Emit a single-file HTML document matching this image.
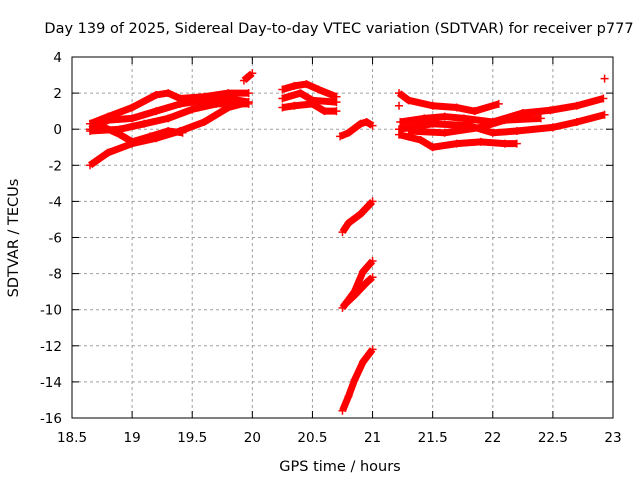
<!DOCTYPE html>
<html><head><meta charset="utf-8"><style>
body{margin:0;background:#fff}
svg{font-family:"DejaVu Sans","Liberation Sans",sans-serif;font-size:13.5px}
.big{font-size:14.5px}
</style></head><body>
<svg id="c" width="640" height="480" xmlns="http://www.w3.org/2000/svg">
<rect width="640" height="480" fill="#fff"/>
<text class="big" x="339" y="33" text-anchor="middle">Day 139 of 2025, Sidereal Day-to-day VTEC variation (SDTVAR) for receiver p777</text>
<text class="big" x="340" y="471" text-anchor="middle">GPS time / hours</text>
<text class="big" transform="translate(18,238) rotate(-90)" text-anchor="middle">SDTVAR / TECUs</text>
<g id="grid"></g><g id="marks"></g>
<rect x="72" y="57" width="541" height="361" fill="none" stroke="#000"/>
<g id="ticks"></g>
</svg>
<script>
const xTicks=[18.5,19,19.5,20,20.5,21,21.5,22,22.5,23];
const xTickLabels=["18.5","19","19.5","20","20.5","21","21.5","22","22.5","23"];
const yTicks=[4,2,0,-2,-4,-6,-8,-10,-12,-14,-16];
const yTickLabels=["4","2","0","-2","-4","-6","-8","-10","-12","-14","-16"];
const trackA=[[18.65,0.3],[18.8,0.7],[19.0,1.2],[19.2,1.9],[19.3,2.0],[19.4,1.7],[19.6,1.8],[19.8,2.0],[19.97,2.0]];
const trackB=[[18.65,0.0],[18.8,0.5],[19.0,0.6],[19.2,1.0],[19.4,1.4],[19.6,1.6],[19.8,1.7],[19.97,1.5]];
const trackC=[[18.65,-0.1],[18.9,0.0],[19.1,0.3],[19.3,0.6],[19.5,1.1],[19.7,1.4],[19.97,1.4]];
const trackD=[[18.65,-2.0],[18.8,-1.3],[19.0,-0.8],[19.2,-0.5],[19.4,-0.1],[19.6,0.4],[19.8,1.2],[19.97,1.5]];
const trackE=[[18.7,0.3],[18.9,-0.3],[19.0,-0.7],[19.15,-0.4],[19.3,-0.1],[19.42,-0.2]];
const trackF=[[19.93,2.7],[20.0,3.1]];
const trackG=[[20.25,2.2],[20.35,2.4],[20.45,2.5],[20.55,2.2],[20.7,1.8]];
const trackH=[[20.25,1.7],[20.4,2.0],[20.5,1.6],[20.7,1.5]];
const trackI=[[20.25,1.2],[20.35,1.3],[20.5,1.4],[20.6,1.0],[20.7,1.0]];
const trackArc=[[20.73,-0.4],[20.8,-0.2],[20.9,0.3],[20.95,0.4],[21.0,0.2]];
const trackJ=[[20.75,-5.7],[20.8,-5.2],[20.9,-4.7],[21.0,-4.0]];
const trackK=[[20.75,-9.9],[20.85,-9.0],[20.92,-7.9],[21.0,-7.3]];
const trackL=[[20.77,-9.7],[20.85,-9.2],[20.95,-8.5],[21.0,-8.2]];
const trackM=[[20.75,-15.6],[20.8,-14.8],[20.85,-13.9],[20.92,-12.9],[21.0,-12.2]];
const trackN=[[21.22,2.0],[21.3,1.6],[21.5,1.3],[21.7,1.2],[21.85,1.0],[22.05,1.4]];
const trackP=[[21.23,0.4],[21.43,0.6],[21.6,0.7],[21.76,0.6],[22.0,0.4],[22.25,0.9],[22.48,1.05],[22.7,1.3],[22.92,1.7]];
const trackQ=[[21.22,0.0],[21.5,0.3],[21.8,0.2],[22.0,-0.2],[22.2,-0.1],[22.5,0.1],[22.7,0.4],[22.93,0.8]];
const trackR=[[21.22,-0.3],[21.4,-0.6],[21.5,-1.0],[21.7,-0.8],[21.9,-0.7],[22.1,-0.8],[22.2,-0.8]];
const trackS=[[21.3,-0.1],[21.6,-0.2],[21.9,0.1],[22.1,0.5],[22.4,0.6]];
const trackSingles=[[22.93,2.8],[21.22,1.3]];
const tracks=[trackA,trackB,trackC,trackD,trackE,trackF,trackG,trackH,trackI,trackArc,trackJ,trackK,trackL,trackM,trackN,trackP,trackQ,trackR,trackS];
const NS="http://www.w3.org/2000/svg";
function sx(v){return 72+(v-18.5)/4.5*541;}
function sy(v){return 57+(4-v)/20*361;}
function mk(t,a,p){const e=document.createElementNS(NS,t);for(const k in a)e.setAttribute(k,a[k]);p.appendChild(e);return e;}
const grid=document.getElementById('grid'),ticks=document.getElementById('ticks'),marks=document.getElementById('marks');
xTicks.forEach((v,i)=>{const x=sx(v);
 if(i>0&&i<xTicks.length-1){const g=mk('line',{x1:x,x2:x,y1:57,y2:418,stroke:'#a0a0a0','stroke-dasharray':'3,3'},grid);}
 mk('line',{x1:x,x2:x,y1:418,y2:411,stroke:'#000'},ticks);mk('line',{x1:x,x2:x,y1:57,y2:64,stroke:'#000'},ticks);
 const t=mk('text',{x:x,y:442,'text-anchor':'middle'},ticks);t.textContent=xTickLabels[i];
 });
yTicks.forEach((v,i)=>{const y=sy(v);
 if(i>0&&i<yTicks.length-1){const g=mk('line',{x1:72,x2:613,y1:y,y2:y,stroke:'#a0a0a0','stroke-dasharray':'3,3'},grid);}
 mk('line',{x1:72,x2:79,y1:y,y2:y,stroke:'#000'},ticks);mk('line',{x1:613,x2:606,y1:y,y2:y,stroke:'#000'},ticks);
 const t=mk('text',{x:62,y:y+5,'text-anchor':'end'},ticks);t.textContent=yTickLabels[i];
 });
function plus(x,y){const p=mk('path',{d:`M${x-4},${y}h8M${x},${y-4}v8`,stroke:'#f00','stroke-width':1.5},marks);
 }
tracks.forEach(tr=>{const pl=mk('polyline',{points:tr.map(d=>sx(d[0])+','+sy(d[1])).join(' '),fill:'none',stroke:'#f00','stroke-width':7,'stroke-linejoin':'round'},marks);
 
 tr.forEach(d=>plus(sx(d[0]),sy(d[1])));});
trackSingles.forEach(d=>plus(sx(d[0]),sy(d[1])));
</script>
</body></html>
